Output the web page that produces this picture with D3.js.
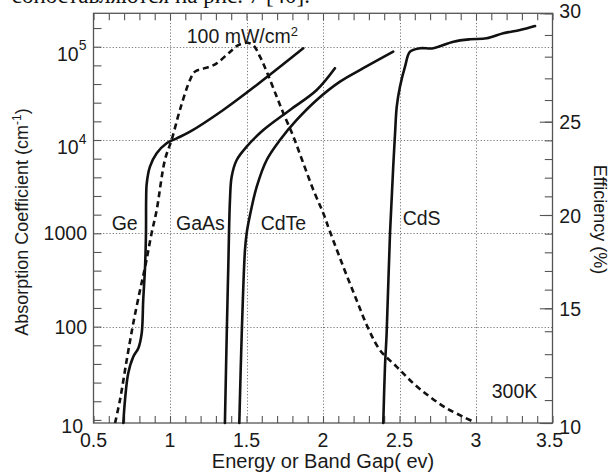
<!DOCTYPE html>
<html>
<head>
<meta charset="utf-8">
<script src="https://cdn.jsdelivr.net/npm/d3@7"></script>
<style>
  html, body { margin: 0; padding: 0; background: #fff; }
  svg { display: block; }
  text { font-family: "Liberation Sans", Arial, sans-serif; fill: #1a1a1a; }
</style>
</head>
<body>
<svg id="chart" width="611" height="474"></svg>
<script>
// Absorption coefficient (cm^-1) against photon energy (eV), one pair of arrays per material
const geEnergy   = [0.695, 0.706, 0.727, 0.760, 0.793, 0.815, 0.825, 0.837, 0.843, 0.844, 0.848, 0.869, 0.913, 0.978, 1.044, 1.131, 1.348, 1.567, 1.871];
const geAlpha    = [9.3, 16.4, 31.6, 47.6, 58.6, 84.8, 193, 439, 1008, 2275, 3436, 5180, 7210, 9230, 10430, 12280, 20990, 38900, 96200];

const gaasEnergy = [1.359, 1.371, 1.381, 1.392, 1.403, 1.436, 1.501, 1.610, 1.784, 1.959, 2.078];
const gaasAlpha  = [9.3, 84.8, 439, 2275, 4045, 6110, 8490, 12800, 20990, 34400, 58800];

const cdteEnergy = [1.453, 1.469, 1.490, 1.501, 1.523, 1.567, 1.632, 1.719, 1.828, 1.959, 2.111, 2.263, 2.459];
const cdteAlpha  = [9.3, 84.8, 662, 1000, 1571, 3162, 6110, 10000, 16400, 26850, 42200, 58800, 88500];

const cdsEnergy  = [2.394, 2.405, 2.416, 2.438, 2.459, 2.471, 2.482, 2.503, 2.536, 2.569, 2.634, 2.721, 2.852, 2.961, 3.070, 3.178, 3.288, 3.386];
const cdsAlpha   = [9.3, 37.2, 84.8, 1000, 5180, 11800, 22750, 37200, 61100, 88500, 96200, 96200, 113300, 120200, 123000, 139200, 151000, 166700];

// Ideal cell efficiency (%) against band gap (eV) at 100 mW/cm2
const effGap   = [0.641, 0.673, 0.717, 0.760, 0.804, 0.837, 0.880, 0.913, 0.967, 1.011, 1.065, 1.131, 1.163, 1.207, 1.261, 1.305, 1.392, 1.446, 1.501, 1.544, 1.588, 1.632, 1.697, 1.741, 1.806, 1.871, 1.937, 2.002, 2.046, 2.133, 2.220, 2.296, 2.373, 2.482, 2.590, 2.699, 2.808, 2.917, 2.982];
const effValue = [10.0, 11.0, 12.74, 14.35, 15.97, 17.2, 19.03, 20.27, 22.96, 24.03, 25.55, 26.93, 27.31, 27.43, 27.54, 27.69, 28.22, 28.53, 28.64, 28.53, 28.0, 27.31, 26.16, 25.39, 24.21, 22.78, 21.34, 20.09, 19.10, 17.22, 15.43, 14.12, 13.17, 12.45, 11.73, 11.14, 10.64, 10.27, 10.06];

// Tick labels
const xTickLabels     = [0.5, 1, 1.5, 2, 2.5, 3, 3.5];
const leftTickLabels  = [10, 100, 1000, 10000, 100000];
const rightTickLabels = [10, 15, 20, 25, 30];

// Text annotations
const materialNames = ["Ge", "GaAs", "CdTe", "CdS"];

const svg = d3.select("#chart");
const L = 93.5, R = 552.5, T = 13.3, B = 423;

const x = d3.scaleLinear().domain([0.5, 3.5]).range([L, R]);
const yA = d3.scaleLog().domain([Math.pow(10, 0.967), Math.pow(10, 5.358)]).range([B, T]);
const yE = d3.scaleLinear().domain([10, 15, 20, 25, 30]).range([B, 308.3, 215, 121.7, T]);

// running text line of the page above the figure
svg.append("text")
  .attr("x", 310).attr("y", 3)
  .attr("text-anchor", "end")
  .style("font-family", "'Liberation Serif', 'Times New Roman', serif")
  .style("font-size", "23px")
  .style("fill", "#111")
  .text("сопоставляются на рис. 7 [40].");

// grid
const grid = svg.append("g").attr("stroke", "#777").attr("stroke-width", 1).attr("stroke-dasharray", "1.2,2");
grid.selectAll("line.v").data([1, 1.5, 2, 2.5, 3]).join("line")
  .attr("x1", d => Math.round(x(d)) + 0.5).attr("x2", d => Math.round(x(d)) + 0.5)
  .attr("y1", T).attr("y2", B);
grid.selectAll("line.h").data([100, 1000, 10000, 100000]).join("line")
  .attr("y1", d => Math.round(yA(d)) + 0.5).attr("y2", d => Math.round(yA(d)) + 0.5)
  .attr("x1", L).attr("x2", R);

// ticks
function styleAxis(g) {
  g.select(".domain").remove();
  g.selectAll(".tick line").attr("stroke", "#555").attr("stroke-width", 1.1);
  g.selectAll(".tick text").remove();
}
const minorX = d3.range(5, 36).map(k => k / 10);
svg.append("g").attr("transform", `translate(0,${B})`)
  .call(d3.axisBottom(x).tickValues(minorX).tickSize(-7).tickFormat("")).call(styleAxis);
svg.append("g").attr("transform", `translate(0,${T})`)
  .call(d3.axisTop(x).tickValues(minorX).tickSize(-7).tickFormat("")).call(styleAxis);
svg.append("g").attr("transform", `translate(${L},0)`)
  .call(d3.axisLeft(yA).tickValues(d3.range(5, 27).map(k => Math.pow(10, k / 5))).tickSize(-8).tickFormat("")).call(styleAxis);
svg.append("g").attr("transform", `translate(${R},0)`)
  .call(d3.axisRight(yE).tickValues(d3.range(10, 31)).tickSize(-7.7).tickFormat("")).call(styleAxis);
svg.append("g").attr("transform", `translate(${R},0)`)
  .call(d3.axisRight(yE).tickValues(rightTickLabels).tickSize(-12.7).tickFormat("")).call(styleAxis);

// frame
svg.append("rect").attr("x", L).attr("y", T).attr("width", R - L).attr("height", B - T)
  .attr("fill", "none").attr("stroke", "#555").attr("stroke-width", 1.3);

// curves
const absLine = d3.line().x(d => x(d[0])).y(d => yA(d[1])).curve(d3.curveCatmullRom.alpha(0.5));
const curves = svg.append("g").attr("fill", "none").attr("stroke", "#111").attr("stroke-width", 2.6)
  .attr("stroke-linejoin", "round").attr("stroke-linecap", "round");
[[geEnergy, geAlpha], [gaasEnergy, gaasAlpha], [cdteEnergy, cdteAlpha], [cdsEnergy, cdsAlpha]].forEach(([e, a]) => {
  curves.append("path").attr("d", absLine(e.map((v, i) => [v, a[i]])));
});
const effLine = d3.line().x(d => x(d[0])).y(d => yE(d[1])).curve(d3.curveCatmullRom.alpha(0.5));
curves.append("path")
  .attr("d", effLine(effGap.map((v, i) => [v, effValue[i]])))
  .attr("stroke-dasharray", "6,4").attr("stroke-linecap", "butt");

// tick labels
const fs = 19.5;
svg.append("g").selectAll("text").data(xTickLabels).join("text")
  .attr("x", d => d === 3.5 ? x(d) - 3 : x(d)).attr("y", 447)
  .attr("text-anchor", "middle").style("font-size", fs + "px")
  .text(d => d);

const leftG = svg.append("g");
leftTickLabels.forEach(v => {
  const p = Math.round(Math.log10(v));
  const t = leftG.append("text").attr("text-anchor", "end").style("font-size", fs + "px");
  if (v === 10) {
    t.attr("x", L - 10.5).attr("y", yA(v) + 13.5).text("10");
  } else if (v >= 10000) {
    t.attr("x", L - 7).attr("y", yA(v) + 14);
    t.append("tspan").text("10");
    t.append("tspan").attr("dy", -10.5).style("font-size", "14px").text(p);
  } else {
    t.attr("x", L - 6.5).attr("y", yA(v) + 7).text(v);
  }
});

svg.append("g").selectAll("text").data(rightTickLabels).join("text")
  .attr("x", 559.3)
  .attr("y", d => d === 30 ? 17.5 : d === 10 ? 434 : yE(d) + 7.5)
  .style("font-size", fs + "px")
  .text(d => d);

// axis titles
svg.append("text").attr("x", (L + R) / 2).attr("y", 468)
  .attr("text-anchor", "middle").style("font-size", "20px")
  .text("Energy or Band Gap( ev)");

const yt = svg.append("text").attr("transform", "translate(28,222) rotate(-90)")
  .attr("text-anchor", "middle").style("font-size", "18px");
yt.append("tspan").text("Absorption Coefficient (cm");
yt.append("tspan").attr("dy", -7).style("font-size", "12px").text("-1");
yt.append("tspan").attr("dy", 7).text(")");

svg.append("text").attr("transform", "translate(594,219.5) rotate(90)")
  .attr("text-anchor", "middle").style("font-size", "18px")
  .text("Efficiency (%)");

// annotations
const ann = svg.append("g").style("font-size", fs + "px");
[[materialNames[0], 111.7, 230], [materialNames[1], 176, 230], [materialNames[2], 260.7, 230], [materialNames[3], 402.7, 225]]
  .forEach(([s, ax, ay]) => ann.append("text").attr("x", ax).attr("y", ay).text(s));
const pw = ann.append("text").attr("x", 186.7).attr("y", 42.5);
pw.append("tspan").text("100 mW/cm");
pw.append("tspan").attr("dy", -6.5).style("font-size", "13px").text("2");
ann.append("text").attr("x", 491.7).attr("y", 398).text("300K");
</script>
</body>
</html>
